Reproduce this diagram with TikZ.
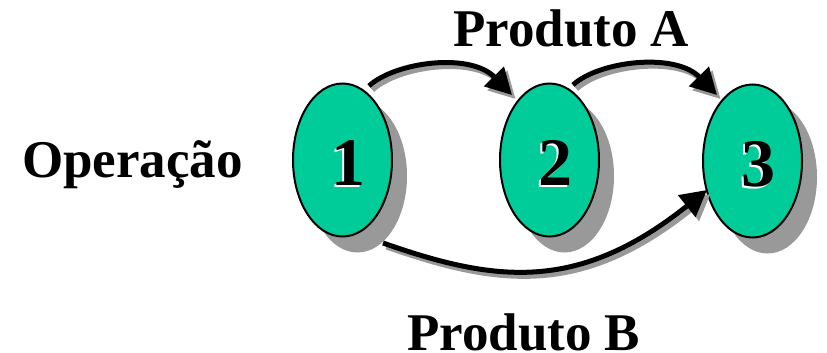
\documentclass[tikz,border=0pt]{standalone}
\usepackage{fontspec}
\setmainfont{Liberation Serif}
\usetikzlibrary{shapes.geometric,arrows.meta,calc,shadows}

\definecolor{opgreen}{HTML}{00CC99}
\definecolor{shadowgray}{HTML}{999999}

\tikzset{
  opnode/.style={ellipse, draw=black, line width=2pt, fill=opgreen,
    minimum width=99pt, minimum height=153pt, inner sep=0pt,
    general shadow={fill=shadowgray, shadow xshift=15pt, shadow yshift=-16pt}},
  digit/.style={anchor=base, inner sep=0pt, font=\bfseries\fontsize{68}{70}\selectfont},
  caption/.style={anchor=base west, inner sep=0pt, font=\bfseries\fontsize{53}{60}\selectfont},
  flow/.style={line width=5pt, draw=black,
    -{Triangle[length=26pt,width=27pt]}},
  flowshade/.style={flow, draw=shadowgray,
    transform canvas={shift={(3.5pt,-4pt)}}}
}

% one connector: grey offset copy underneath, black on top
\newcommand\flowarrow[1]{\draw[flowshade] #1; \draw[flow] #1;}

\begin{document}
\begin{tikzpicture}[x=1pt,y=-1pt]
  \useasboundingbox (0,0) rectangle (827,353);

  % operations
  \node[opnode] (n1) at (342.5,160) {};
  \node[opnode] (n2) at (549.5,160) {};
  \node[opnode] (n3) at (752.5,161) {};

  % operation numbers with a light engraved edge
  \foreach \n/\t in {n1/1, n2/2, n3/3}{
    \node[digit, white] at ($(\n)+(4,27)$) {\t};
    \node[digit, black] (d\n) at ($(\n)+(6,25)$) {\t};
  }

  % labels
  \node[caption] (op) at (22,177) {Operação};
  \node[caption] (pa) at (453,47) {Produto A};
  \node[caption] (pb) at (407,350) {Produto B};

  % product A: 1 -> 2 -> 3
  \flowarrow{($(n1)+(26.5,-74)$) .. controls +(26,-24) and +(-42,-43) .. ($(n2)+(-37.5,-65)$)}
  \flowarrow{($(n2)+(23.5,-75)$) .. controls +(26,-24) and +(-42,-43) .. ($(n3)+(-35.5,-66)$)}
  % product B: 1 -> 3
  \flowarrow{($(n1)+(40.5,83)$) .. controls +(110,38.5) and +(-130,104) .. ($(n3)+(-45.5,29)$)}
\end{tikzpicture}
\end{document}
